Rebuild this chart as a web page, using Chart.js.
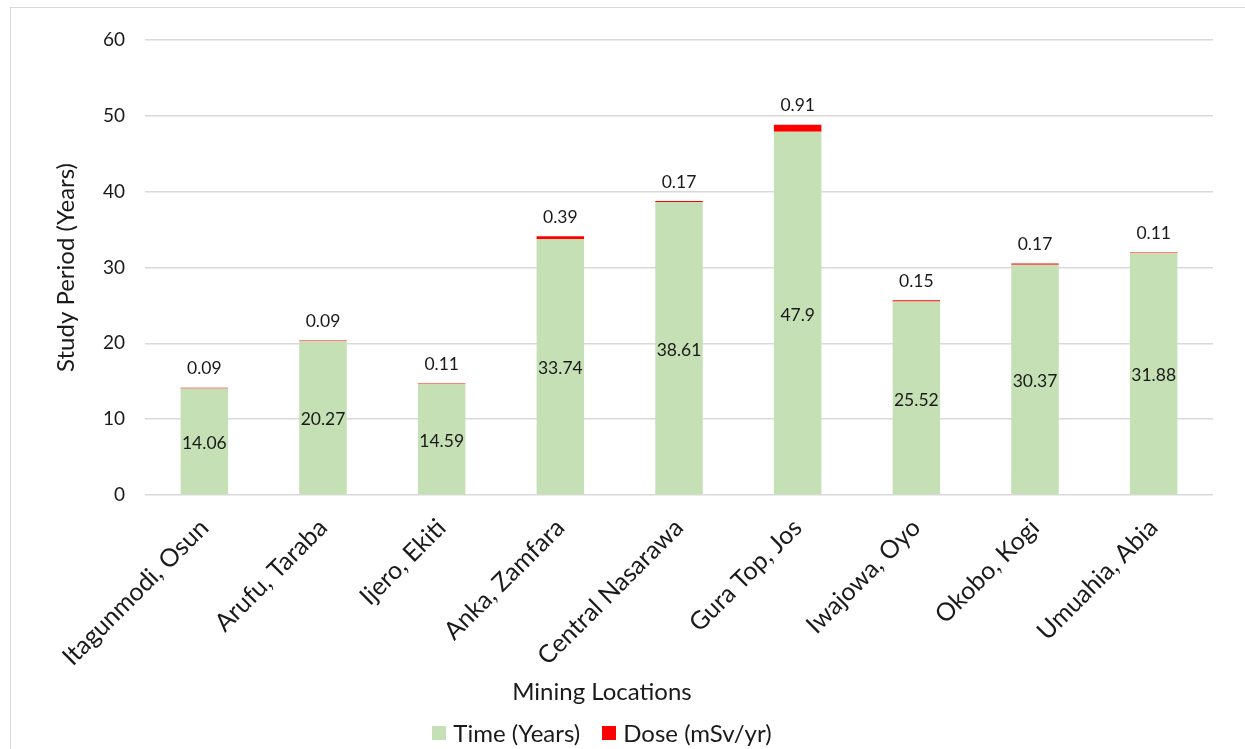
<!DOCTYPE html>
<html>
<head>
<meta charset="utf-8">
<script src="https://cdn.jsdelivr.net/npm/chart.js@4.4.1/dist/chart.umd.min.js"></script>
<style>
  html, body { margin:0; padding:0; background:#fff; overflow:hidden; }
  body { width:1245px; height:749px; position:relative; font-family:Lato, sans-serif; color:#1a1a1a; }
  .frame { position:absolute; left:10px; top:7px; width:1300px; height:800px; border:1px solid #d9d9d9; box-sizing:border-box; }
  #chart { position:absolute; left:0; top:0; }
  .x-title { position:absolute; left:0; width:1204px; top:676px; text-align:center; font-size:24px; line-height:30px; }
  .legend { position:absolute; left:0; width:1204px; top:718px; display:flex; justify-content:center; gap:22px; font-size:24px; line-height:30px; }
  .legend span.item { display:flex; align-items:center; gap:7px; }
  .legend i { display:inline-block; width:14px; height:14px; }
</style>
</head>
<body>
<div class="frame"></div>
<canvas id="chart" width="1245" height="749"></canvas>
<div class="x-title">Mining Locations</div>
<div class="legend" id="legend"></div>
<script>
// --- data ---
const locations = ['Itagunmodi, Osun','Arufu, Taraba','Ijero, Ekiti','Anka, Zamfara','Central Nasarawa','Gura Top, Jos','Iwajowa, Oyo','Okobo, Kogi','Umuahia, Abia'];
const timeYears = [14.06, 20.27, 14.59, 33.74, 38.61, 47.9, 25.52, 30.37, 31.88];
const doseValues = [0.09, 0.09, 0.11, 0.39, 0.17, 0.91, 0.15, 0.17, 0.11];
const yTicks = [0, 10, 20, 30, 40, 50, 60];

const seriesNames = ['Time (Years)', 'Dose (mSv/yr)'];
const seriesColors = ['#c5e0b4', '#ff0000'];
const TEXT = '#1a1a1a';

// data labels: time centred in its bar, dose above the stack
const valueLabels = {
  id: 'valueLabels',
  afterDatasetsDraw(chart) {
    const ctx = chart.ctx;
    ctx.save();
    ctx.font = '17.5px Lato';
    ctx.fillStyle = TEXT;
    ctx.textAlign = 'center';
    ctx.textBaseline = 'middle';
    chart.data.datasets.forEach((ds, i) => {
      chart.getDatasetMeta(i).data.forEach((bar, j) => {
        const y = i === 0 ? (bar.y + bar.base) / 2 + 2 : bar.y - 19;
        ctx.fillText(String(ds.data[j]), bar.x, y);
      });
    });
    ctx.restore();
  }
};

const chart = new Chart(document.getElementById('chart'), {
  type: 'bar',
  data: {
    labels: locations,
    datasets: [
      { label: seriesNames[0], data: timeYears, backgroundColor: seriesColors[0] },
      { label: seriesNames[1], data: doseValues, backgroundColor: seriesColors[1] }
    ]
  },
  options: {
    responsive: false,
    animation: false,
    devicePixelRatio: 1,
    layout: { padding: { left: 0, top: 40, right: 32, bottom: 0 } },
    datasets: { bar: { categoryPercentage: 1, barPercentage: 0.4 } },
    plugins: { legend: { display: false }, tooltip: { enabled: false } },
    scales: {
      x: {
        stacked: true,
        grid: { display: false, drawTicks: false },
        border: { display: false },
        ticks: { color: TEXT, font: { family: 'Lato', size: 25 }, minRotation: 45, maxRotation: 45, padding: 18 },
        afterFit(scale) { scale.height = 254; }
      },
      y: {
        stacked: true,
        min: 0, max: 60,
        afterBuildTicks(scale) { scale.ticks = yTicks.map(v => ({ value: v })); },
        grid: { color: '#d9d9d9', lineWidth: 1.5, drawTicks: false },
        border: { display: false },
        ticks: { color: TEXT, font: { family: 'Lato', size: 19 }, padding: 20 },
        title: { display: true, text: 'Study Period (Years)', color: TEXT, font: { family: 'Lato', size: 24 }, padding: { top: 52 } },
        afterFit(scale) { scale.width = 145; }
      }
    }
  },
  plugins: [valueLabels]
});

// legend
const legend = document.getElementById('legend');
chart.data.datasets.forEach(ds => {
  const item = document.createElement('span');
  item.className = 'item';
  item.innerHTML = `<i style="background:${ds.backgroundColor}"></i>${ds.label}`;
  legend.appendChild(item);
});
</script>
</body>
</html>
